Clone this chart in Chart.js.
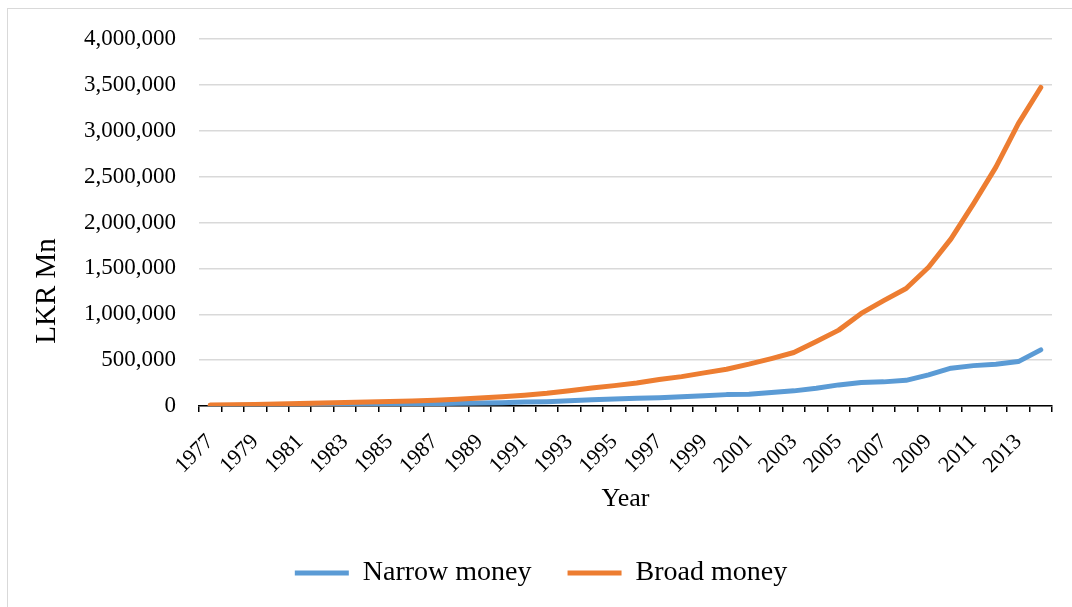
<!DOCTYPE html>
<html>
<head>
<meta charset="utf-8">
<script src="https://cdn.jsdelivr.net/npm/chart.js@4/dist/chart.umd.min.js"></script>
<style>
  html, body { margin: 0; padding: 0; background: #fff; }
  #wrap { position: relative; width: 1072px; height: 607px; overflow: hidden; }
  #frame { position: absolute; left: 7px; top: 8px; width: 1090px; height: 620px;
           border: 1.5px solid #d9d9d9; box-sizing: border-box; }
  canvas { position: absolute; left: 0; top: 0; }
</style>
</head>
<body>
<div id="wrap">
  <div id="frame"></div>
  <canvas id="c" width="1072" height="607"></canvas>
</div>
<script>
// Money supply in Sri Lanka, LKR million
const years = [
  '1977','1978','1979','1980','1981','1982','1983','1984','1985','1986',
  '1987','1988','1989','1990','1991','1992','1993','1994','1995','1996',
  '1997','1998','1999','2000','2001','2002','2003','2004','2005','2006',
  '2007','2008','2009','2010','2011','2012','2013','2014'
];
const narrowMoney = [
  5000, 6000, 8000, 9800, 10500, 12500, 15500, 17500, 20000, 21500,
  25000, 31000, 33000, 36000, 43000, 47000, 56000, 68000, 77000, 84000,
  91000, 102000, 113000, 124000, 128000, 148000, 165000, 193000, 230000, 255000,
  263000, 280000, 340000, 412000, 440000, 456000, 484000, 612000
];
const broadMoney = [
  10000, 13000, 17500, 22000, 26000, 32000, 38000, 44000, 50000, 54000,
  62000, 74000, 87000, 100000, 118000, 138000, 167000, 196000, 222000, 251000,
  288000, 320000, 361000, 401000, 456000, 517000, 583000, 703000, 827000, 1009000,
  1148000, 1280000, 1512000, 1821000, 2204000, 2604000, 3078000, 3472000
];
const yTicks = [0, 500000, 1000000, 1500000, 2000000, 2500000, 3000000, 3500000, 4000000];
const xTitle = 'Year';
const yTitle = 'LKR Mn';

const SERIF = "'Liberation Serif', 'Times New Roman', serif";

// Rotated y-axis caption, placed to the left of the tick labels
const yCaption = {
  id: 'yCaption',
  afterDraw(chart) {
    const ctx = chart.ctx;
    ctx.save();
    ctx.translate(55, 291);
    ctx.rotate(-Math.PI / 2);
    ctx.font = '29px ' + SERIF;
    ctx.fillStyle = '#000';
    ctx.textAlign = 'center';
    ctx.textBaseline = 'alphabetic';
    ctx.fillText(yTitle, 0, 0);
    ctx.restore();
  }
};

new Chart(document.getElementById('c'), {
  type: 'line',
  data: {
    labels: years,
    datasets: [
      {
        label: 'Narrow money',
        data: narrowMoney,
        borderColor: '#5B9BD5',
        backgroundColor: '#5B9BD5',
        borderWidth: 5,
        borderCapStyle: 'round',
        borderJoinStyle: 'round',
        pointRadius: 0,
        tension: 0,
        order: 1
      },
      {
        label: 'Broad money',
        data: broadMoney,
        borderColor: '#ED7D31',
        backgroundColor: '#ED7D31',
        borderWidth: 5,
        borderCapStyle: 'round',
        borderJoinStyle: 'round',
        pointRadius: 0,
        tension: 0,
        order: 0
      }
    ]
  },
  options: {
    responsive: false,
    animation: false,
    devicePixelRatio: 1,
    layout: { padding: { left: 30, right: 20, top: 39, bottom: 10 } },
    plugins: {
      tooltip: { enabled: false },
      legend: {
        position: 'bottom',
        labels: {
          font: { family: SERIF, size: 28 },
          color: '#000',
          usePointStyle: true,
          pointStyle: 'line',
          pointStyleWidth: 54,
          padding: 36,
          sort: (a, b) => a.datasetIndex - b.datasetIndex
        }
      }
    },
    scales: {
      x: {
        offset: true,
        grid: {
          display: true,
          offset: true,
          drawOnChartArea: false,
          drawTicks: true,
          tickLength: 6,
          color: '#000',
          lineWidth: 1.5
        },
        border: { display: true, color: '#000', width: 1.5 },
        ticks: {
          autoSkip: false,
          minRotation: 45,
          maxRotation: 45,
          padding: 17,
          color: '#000',
          font: { family: SERIF, size: 22 },
          callback: function (v, i) { return i % 2 === 0 ? this.getLabelForValue(v) : ''; }
        },
        title: {
          display: true,
          text: xTitle,
          color: '#000',
          font: { family: SERIF, size: 26 },
          padding: { top: 0, bottom: 8 }
        },
        afterFit: (scale) => {
          scale.height = 117;
          scale.paddingLeft = 0;
          scale.paddingRight = 0;
        }
      },
      y: {
        min: 0,
        max: 4000000,
        afterBuildTicks: (scale) => { scale.ticks = yTicks.map(v => ({ value: v })); },
        grid: { color: '#d9d9d9', lineWidth: 1.5, drawTicks: false },
        border: { display: false },
        ticks: {
          padding: 23,
          color: '#000',
          font: { family: SERIF, size: 23 },
          callback: (v) => Number(v).toLocaleString('en-US')
        },
        afterFit: (scale) => { scale.width = 169; }
      }
    }
  },
  plugins: [yCaption]
});
</script>
</body>
</html>
